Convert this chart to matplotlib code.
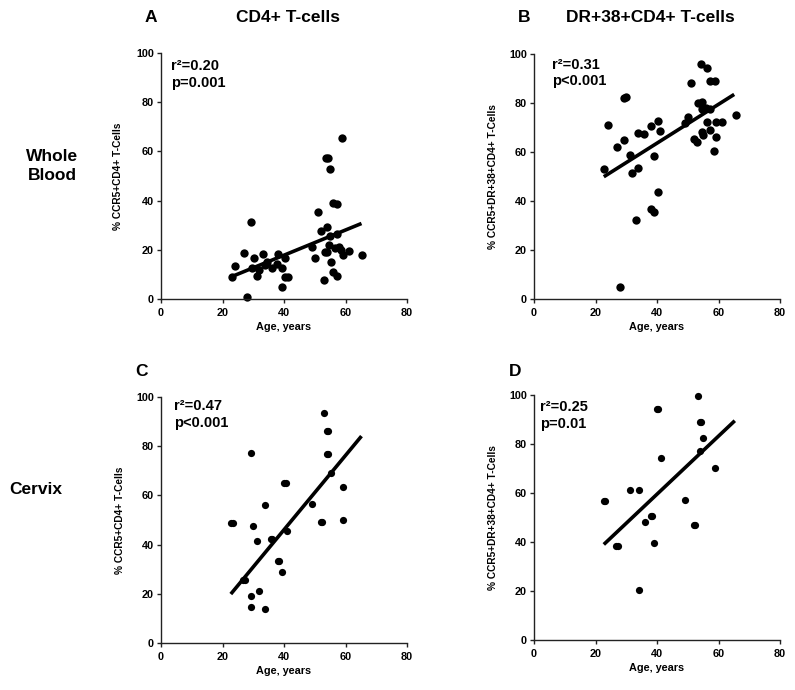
import numpy as np
import matplotlib
matplotlib.use('Agg')
import matplotlib.pyplot as plt

plt.rcParams['font.family'] = ['Liberation Sans', 'DejaVu Sans']
plt.rcParams['font.weight'] = 'bold'

# panel A - whole blood, CD4+ T-cells
age_a = [23.0, 24.1, 27.0, 29.2, 28.1, 30.1, 29.5, 31.2, 31.9, 33.1, 33.9, 34.4, 36.0,
         38.2, 37.7, 39.3, 39.3, 40.4, 40.4, 41.4, 49.0, 50.1, 51.2, 51.9, 53.0, 53.5,
         54.4, 55.0, 56.0, 57.1, 54.1, 55.0, 53.3, 54.7, 54.1, 56.6, 57.9, 58.4, 55.3,
         56.0, 57.1, 57.1, 58.9, 59.3, 61.2, 65.3]
pct_a = [8.8, 13.5, 18.6, 31.3, 0.9, 16.7, 12.5, 9.5, 11.8, 18.2, 13.8, 15.2, 12.5,
         18.2, 14.2, 12.5, 5.0, 16.5, 9.1, 9.1, 21.0, 16.5, 35.5, 27.8, 7.7, 57.5,
         57.5, 52.8, 38.9, 38.6, 29.1, 25.6, 19.2, 22.0, 19.2, 20.6, 21.3, 19.9, 15.2,
         11.1, 9.3, 26.3, 65.3, 17.9, 19.5, 17.9]
fit_a_x = [22.4, 65.2]
fit_a_y = [8.8, 30.7]

# panel B - whole blood, DR+38+CD4+ T-cells
age_b = [22.9, 24.0, 26.9, 29.2, 29.2, 29.9, 27.9, 31.2, 31.9, 33.2, 33.9, 33.9, 35.9,
         38.1, 38.1, 39.1, 39.1, 40.2, 41.1, 40.2, 49.1, 50.1, 51.2, 51.9, 53.0, 54.2,
         56.2, 53.4, 54.5, 54.5, 55.9, 57.2, 54.5, 55.1, 56.4, 57.2, 57.1, 59.0, 58.5,
         59.2, 59.2, 61.2, 65.8]
pct_b = [53.1, 70.9, 62.2, 65.0, 81.9, 82.6, 4.8, 58.6, 51.3, 32.4, 53.6, 67.9, 67.3,
         70.6, 36.6, 35.5, 58.4, 72.5, 68.4, 43.5, 71.7, 74.2, 88.0, 65.2, 63.9, 95.8,
         94.4, 80.1, 80.3, 77.4, 77.8, 77.4, 68.3, 66.9, 72.3, 69.0, 88.8, 88.8, 60.4,
         66.3, 72.3, 72.3, 75.2]
fit_b_x = [22.7, 65.1]
fit_b_y = [49.9, 83.5]

# panel C - cervix, CD4+ T-cells
age_c = [22.7, 23.4, 26.7, 27.3, 29.2, 29.2, 29.2, 30.0, 31.1, 32.0, 33.9, 33.9, 35.8,
         36.2, 37.9, 38.5, 39.2, 39.9, 40.5, 41.1, 49.2, 51.9, 52.5, 53.1, 54.0, 54.4,
         54.0, 54.4, 55.2, 59.1, 59.1]
pct_c = [48.9, 48.9, 25.8, 25.8, 77.4, 19.1, 14.5, 47.5, 41.5, 21.0, 55.9, 14.0, 42.4,
         42.4, 33.2, 33.2, 29.0, 65.2, 65.2, 45.7, 56.4, 49.1, 49.1, 93.3, 86.0, 86.0,
         76.9, 76.9, 69.2, 63.5, 50.0]
fit_c_x = [22.7, 65.2]
fit_c_y = [19.9, 84.1]

# panel D - cervix, DR+38+CD4+ T-cells
age_d = [22.8, 23.2, 26.8, 27.2, 31.2, 34.1, 34.1, 36.0, 38.0, 38.4, 39.1, 40.0, 40.4,
         41.2, 49.2, 51.9, 52.3, 53.3, 53.9, 54.3, 55.0, 54.1, 59.0]
pct_d = [56.9, 56.9, 38.5, 38.5, 61.2, 61.2, 20.5, 48.0, 50.7, 50.7, 39.5, 94.1, 94.1,
         74.1, 57.0, 46.8, 46.8, 99.5, 89.1, 89.1, 82.3, 77.3, 70.1]
fit_d_x = [22.7, 65.3]
fit_d_y = [39.0, 89.5]

stats = ['r\u00b2=0.20\np=0.001', 'r\u00b2=0.31\np<0.001',
         'r\u00b2=0.47\np<0.001', 'r\u00b2=0.25\np=0.01']
ylabels = ['% CCR5+CD4+ T-Cells', '% CCR5+DR+38+CD4+ T-Cells',
           '% CCR5+CD4+ T-Cells', '% CCR5+DR+38+CD4+ T-Cells']

W, H = 795, 690
fig = plt.figure(figsize=(W / 100, H / 100), dpi=100)


def px_axes(left, right, bottom, top):
    return fig.add_axes([left / W, 1 - bottom / H, (right - left) / W, (bottom - top) / H])


axes = [px_axes(161, 407, 299, 53), px_axes(534, 780, 299, 54),
        px_axes(161, 407, 643, 397), px_axes(534, 780, 640, 395)]
data = [(age_a, pct_a, fit_a_x, fit_a_y, 6.0), (age_b, pct_b, fit_b_x, fit_b_y, 6.0),
        (age_c, pct_c, fit_c_x, fit_c_y, 5.2), (age_d, pct_d, fit_d_x, fit_d_y, 5.2)]
stat_pos = [(0.04, 0.975), (0.072, 0.985), (0.053, 0.99), (0.024, 0.98)]
ylab_x = [-0.155, -0.145, -0.147, -0.147]

for i, ax in enumerate(axes):
    x, y, fx, fy, ms = data[i]
    ax.plot(x, y, 'o', color='black', markersize=ms, markeredgewidth=0, clip_on=False)
    ax.plot(fx, fy, '-', color='black', linewidth=2.6, solid_capstyle='butt')
    ax.set_xlim(0, 80)
    ax.set_ylim(0, 100)
    ax.set_xticks([0, 20, 40, 60, 80])
    ax.set_yticks([0, 20, 40, 60, 80, 100])
    ax.spines['top'].set_visible(False)
    ax.spines['right'].set_visible(False)
    for s in ['left', 'bottom']:
        ax.spines[s].set_linewidth(1.0)
        ax.spines[s].set_color('#222222')
    ax.tick_params(length=3, width=1.0, color='#222222', labelsize=7.8, pad=2)
    ax.tick_params(axis='x', pad=3.5)
    for lab in ax.get_xticklabels() + ax.get_yticklabels():
        lab.set_fontweight('bold')
    ax.set_xlabel('Age, years', fontsize=7.8, fontweight='bold')
    ax.xaxis.set_label_coords(0.5, -0.095)
    ax.set_ylabel(ylabels[i], fontsize=7.3, fontweight='bold')
    ax.yaxis.set_label_coords(ylab_x[i], 0.5)
    sx, sy = stat_pos[i]
    ax.text(sx, sy, stats[i], transform=ax.transAxes, fontsize=10.5, fontweight='bold',
            va='top', ha='left', linespacing=1.25)

big = dict(fontsize=12.5, fontweight='bold', ha='center', va='center')
fig.text(151 / W, 1 - 18 / H, 'A', **big)
fig.text(288 / W, 1 - 17 / H, 'CD4+ T-cells', **big)
fig.text(524 / W, 1 - 18 / H, 'B', **big)
fig.text(650 / W, 1 - 17 / H, 'DR+38+CD4+ T-cells', **big)
fig.text(141 / W, 1 - 372 / H, 'C', **big)
fig.text(515 / W, 1 - 372 / H, 'D', **big)
fig.text(52 / W, 1 - 166 / H, 'Whole\nBlood', linespacing=1.3, **big)
fig.text(36 / W, 1 - 489 / H, 'Cervix', **big)

fig.savefig('out.png', dpi=100, facecolor='white')
